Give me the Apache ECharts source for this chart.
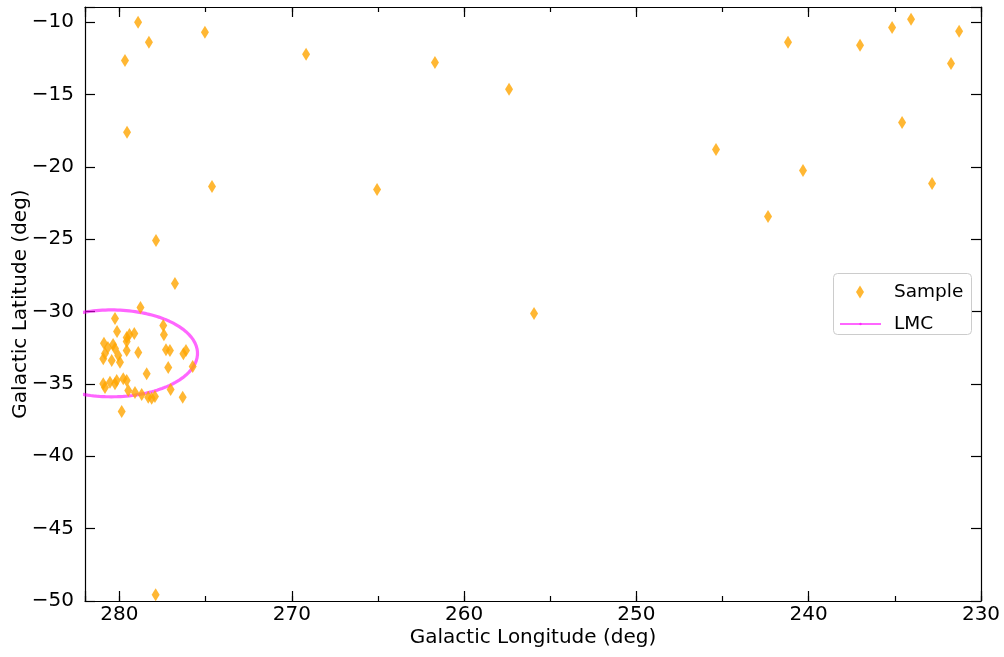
<!DOCTYPE html>
<html>
<head>
<meta charset="utf-8">
<script src="https://cdn.jsdelivr.net/npm/echarts@6/dist/echarts.min.js"></script>
<style>
html,body{margin:0;padding:0;background:#fff;}
#c{width:1004px;height:657px;}
</style>
</head>
<body>
<div id="c"></div>
<script>
// Sample galactic longitudes / latitudes (deg)
var sampleLon = [
  278.92, 279.68, 278.29, 279.56, 275.04, 274.63, 277.88, 276.78, 269.17, 265.05,
  261.69, 257.39, 255.94, 245.38, 241.20, 242.36, 240.33, 237.02, 235.16, 234.06,
  234.58, 232.84, 231.74, 231.27, 277.90,
  278.78, 280.26, 280.14, 279.58, 279.42, 279.14, 279.58, 280.90, 280.37, 280.67,
  280.26, 278.91, 279.58, 280.84, 280.07, 280.94, 280.45, 279.97, 280.55, 280.16,
  279.78, 279.58, 280.94, 280.26, 280.84, 279.49, 279.10, 278.71, 278.33, 278.13,
  277.94, 279.87, 277.46, 277.42, 277.30, 277.07, 276.14, 276.29, 277.17, 278.42,
  275.75, 277.03, 276.33
];
var sampleLat = [
  -10.02, -12.65, -11.40, -17.62, -10.71, -21.36, -25.09, -28.07, -12.23, -21.57,
  -12.79, -14.65, -30.13, -18.81, -11.40, -23.44, -20.26, -11.61, -10.37, -9.81,
  -16.94, -21.15, -12.86, -10.64, -49.57,
  -29.72, -30.48, -31.38, -31.79, -31.58, -31.51, -32.07, -32.20, -32.27, -32.48,
  -32.55, -32.83, -32.69, -32.90, -33.03, -33.26, -33.38, -33.50, -34.88, -34.76,
  -34.64, -34.76, -34.99, -34.99, -35.25, -35.46, -35.60, -35.74, -35.93, -36.00,
  -35.87, -36.90, -30.96, -31.60, -32.64, -32.69, -32.69, -32.92, -33.86, -34.30,
  -33.79, -35.38, -35.92
];
// LMC outline: centre and semi-axes (deg)
var lmcCenter = [280.47, -32.89];
var lmcSemiAxes = [5.0, 3.0];
var xTicks = [230, 240, 250, 260, 270, 280];
var yTicks = [-50, -45, -40, -35, -30, -25, -20, -15, -10];

var sampleData = sampleLon.map(function (l, i) { return [l, sampleLat[i]]; });
var lmcData = [];
for (var k = 0; k <= 360; k += 2) {
  var t = k * Math.PI / 180;
  lmcData.push([lmcCenter[0] + lmcSemiAxes[0] * Math.cos(t), lmcCenter[1] + lmcSemiAxes[1] * Math.sin(t)]);
}

var FONT = 'DejaVu Sans';
var FS = 20;
var LFS = 18.5;
function fmtX(v) { return xTicks.indexOf(Math.round(v * 1000) / 1000) >= 0 ? String(v) : ''; }
function fmtY(v) { return yTicks.indexOf(Math.round(v * 1000) / 1000) >= 0 ? String(v).replace('-', '\u2212') : ''; }

var xBase = { type: 'value', min: 230, max: 282, inverse: true, splitLine: { show: false } };
var yBase = { type: 'value', min: -50, max: -8.96, splitLine: { show: false } };
function ext(a, b) { var o = {}; for (var k in a) o[k] = a[k]; for (var k2 in b) o[k2] = b[k2]; return o; }

var chart = echarts.init(document.getElementById('c'), null, { renderer: 'canvas' });
chart.setOption({
  animation: false,
  backgroundColor: '#fff',
  grid: { left: 85, right: 23, top: 7, bottom: 56, containLabel: false, outerBoundsMode: 'none' },
  xAxis: [
    ext(xBase, {
      position: 'bottom', interval: 10,
      name: 'Galactic Longitude (deg)', nameLocation: 'middle', nameGap: 27, nameMoveOverlap: false,
      nameTextStyle: { fontFamily: FONT, fontSize: FS, color: '#000' },
      axisLine: { show: true, onZero: false, lineStyle: { color: '#000', width: 1.2 } },
      axisTick: { show: true, inside: true, length: 10, lineStyle: { color: '#000', width: 1.2 } },
      axisLabel: { show: true, margin: 4, fontFamily: FONT, fontSize: FS, color: '#000', formatter: fmtX }
    }),
    ext(xBase, {
      position: 'bottom', interval: 5,
      axisLine: { show: false, onZero: false },
      axisTick: { show: true, inside: true, length: 5, lineStyle: { color: '#000', width: 1.2 } },
      axisLabel: { show: false }
    }),
    ext(xBase, {
      position: 'top', interval: 10,
      axisLine: { show: true, onZero: false, lineStyle: { color: '#000', width: 1.2 } },
      axisTick: { show: true, inside: true, length: 10, lineStyle: { color: '#000', width: 1.2 } },
      axisLabel: { show: false }
    }),
    ext(xBase, {
      position: 'top', interval: 5,
      axisLine: { show: false, onZero: false },
      axisTick: { show: true, inside: true, length: 5, lineStyle: { color: '#000', width: 1.2 } },
      axisLabel: { show: false }
    })
  ],
  yAxis: [
    ext(yBase, {
      position: 'left', interval: 5,
      name: 'Galactic Latitude (deg)', nameLocation: 'middle', nameGap: 54, nameRotate: 90, nameMoveOverlap: false,
      nameTextStyle: { fontFamily: FONT, fontSize: FS, color: '#000' },
      axisLine: { show: true, onZero: false, lineStyle: { color: '#000', width: 1.2 } },
      axisTick: { show: true, inside: true, length: 10, lineStyle: { color: '#000', width: 1.2 } },
      axisLabel: { show: true, margin: 11, fontFamily: FONT, fontSize: FS, color: '#000', formatter: fmtY }
    }),
    ext(yBase, {
      position: 'right', interval: 5,
      axisLine: { show: true, onZero: false, lineStyle: { color: '#000', width: 1.2 } },
      axisTick: { show: true, inside: true, length: 10, lineStyle: { color: '#000', width: 1.2 } },
      axisLabel: { show: false }
    })
  ],
  legend: [
    {
      data: ['Sample'], left: 856, top: 282.5, padding: 0, orient: 'vertical',
      itemWidth: 8, itemHeight: 13,
      textStyle: { fontFamily: FONT, fontSize: LFS, color: '#000', padding: [0, 0, 0, 25] }
    },
    {
      data: ['LMC'], left: 839, top: 314.5, padding: 0, orient: 'vertical',
      itemWidth: 41, itemHeight: 3,
      textStyle: { fontFamily: FONT, fontSize: LFS, color: '#000', padding: [0, 0, 0, 8] }
    }
  ],
  graphic: [
    { type: 'rect', z: 3, shape: { x: 833.5, y: 273.5, width: 138, height: 61, r: 4 },
      style: { fill: 'rgba(255,255,255,0.8)', stroke: '#cccccc', lineWidth: 1 } }
  ],
  series: [
    {
      name: 'Sample', type: 'scatter', xAxisIndex: 0, yAxisIndex: 0,
      symbol: 'diamond', symbolSize: [8, 13],
      itemStyle: { color: 'rgb(255,165,0)', opacity: 0.8 },
      data: sampleData, z: 3
    },
    {
      name: 'LMC', type: 'line', xAxisIndex: 0, yAxisIndex: 0,
      symbol: 'none', showSymbol: false, smooth: false, clip: true,
      lineStyle: { color: 'rgba(255,0,255,0.6)', width: 3.2 },
      itemStyle: { color: 'rgba(255,0,255,0.6)' },
      data: lmcData, z: 2
    }
  ]
});
</script>
</body>
</html>
